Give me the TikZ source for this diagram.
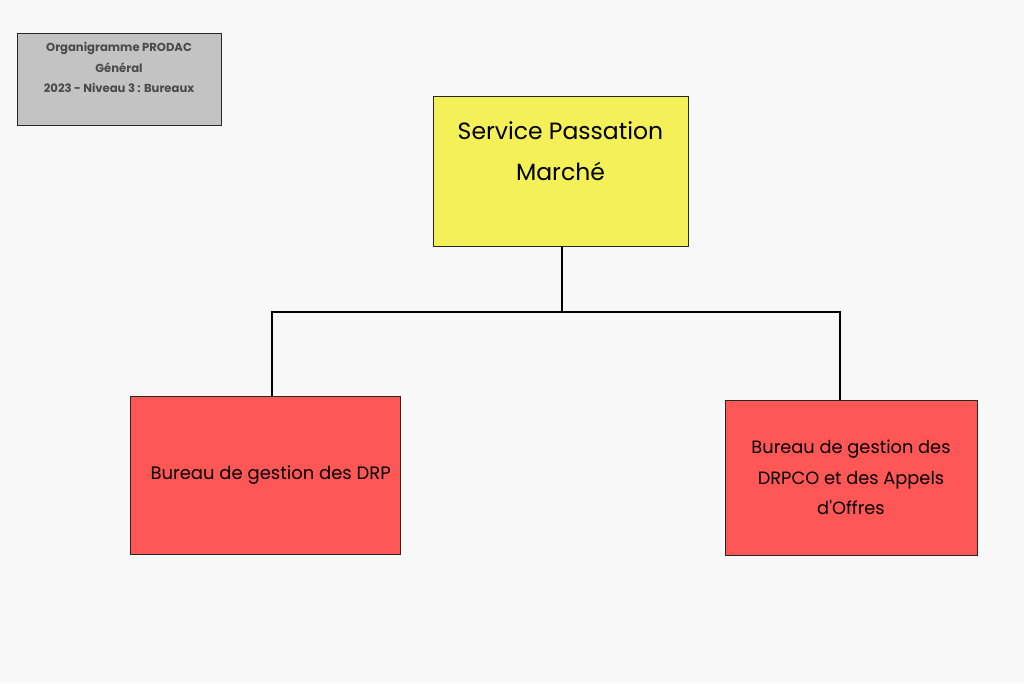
\documentclass[tikz,border=0pt]{standalone}
\usepackage{fontspec}
\setmainfont{Poppins}
\definecolor{bg}{HTML}{F8F8F8}
\definecolor{titlegray}{HTML}{C3C3C3}
\definecolor{titletext}{HTML}{4A4A4A}
\definecolor{servyellow}{HTML}{F4F158}
\definecolor{bured}{HTML}{FF5656}
\begin{document}
\begin{tikzpicture}[x=1pt,y=-1pt,
  boxbase/.style={draw=black!85,line width=0.9pt,inner sep=0pt,outer sep=0pt},
  link/.style={draw=black,line width=1.8pt}]
\useasboundingbox (0,0) rectangle (1024,683);
\fill[bg] (0,0) rectangle (1024,683);
% title box
\draw[boxbase,fill=titlegray] (17,33) rectangle (221,125);
\node[font=\bfseries\fontsize{11.6}{20.5}\selectfont,text=titletext,align=center] (title) at (119,67.5)
  {Organigramme PRODAC\\Général\\2023 - Niveau 3 : Bureaux};
% boxes
\node[boxbase,fill=servyellow,minimum width=255pt,minimum height=150pt] (serv) at (560.5,171) {};
\node[font=\fontsize{23.5}{41}\selectfont,align=center] (servt) at (560.5,151.5) {Service Passation\\Marché};
\node[boxbase,fill=bured,minimum width=270pt,minimum height=158pt] (drp) at (265,475) {};
\node[font=\fontsize{18}{20}\selectfont,anchor=west] (drpt) at (147,475) {Bureau de gestion des DRP};
\node[boxbase,fill=bured,minimum width=252pt,minimum height=155pt] (drpco) at (851,477.5) {};
\node[font=\fontsize{17.8}{30.5}\selectfont,align=center] (drpcot) at (851,477.5) {Bureau de gestion des\\DRPCO et des Appels\\d\textquotesingle Offres};
% connectors
\coordinate (bus) at (562,312);
\draw[link] (serv.south -| bus) -- (bus);
\draw[link] (drp.north -| 272,0) -- (272,312) -- (840,312) -- (drpco.north -| 840,0);
\end{tikzpicture}
\end{document}
